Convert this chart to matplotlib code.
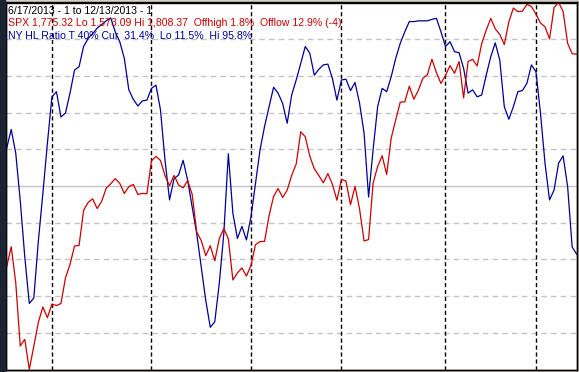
import numpy as np
import matplotlib.pyplot as plt
from matplotlib.patches import Rectangle

# SPX closes, 6/17/2013 .. 12/13/2013 (one per trading day)
spx = [1639.0, 1651.8, 1628.9, 1588.2, 1592.4, 1573.1, 1588.0, 1603.3, 1613.2, 1606.3,
       1615.0, 1614.1, 1615.4, 1631.9, 1640.5, 1652.3, 1652.6, 1675.0, 1680.2, 1682.5,
       1676.3, 1680.9, 1689.4, 1692.1, 1695.5, 1692.4, 1685.9, 1690.3, 1691.7, 1685.3,
       1686.0, 1685.7, 1706.9, 1709.7, 1707.1, 1697.4, 1690.9, 1697.5, 1691.4, 1689.5,
       1694.2, 1685.4, 1661.3, 1655.8, 1646.1, 1652.4, 1642.8, 1657.0, 1663.5, 1656.8,
       1630.5, 1635.0, 1638.2, 1633.0, 1639.8, 1653.1, 1655.1, 1655.2, 1671.7, 1684.0,
       1689.1, 1683.4, 1688.0, 1697.6, 1704.8, 1725.5, 1722.3, 1709.9, 1701.8, 1697.4,
       1692.8, 1698.7, 1691.8, 1681.6, 1695.0, 1693.9, 1678.7, 1690.5, 1676.1, 1655.5,
       1656.4, 1692.6, 1703.2, 1710.1, 1698.1, 1721.5, 1733.2, 1744.5, 1744.7, 1754.7,
       1746.4, 1752.1, 1759.8, 1762.1, 1772.0, 1763.3, 1756.5, 1761.6, 1767.9, 1763.0,
       1770.5, 1747.2, 1770.6, 1771.9, 1767.7, 1782.0, 1790.6, 1798.2, 1791.5, 1787.9,
       1781.4, 1795.9, 1804.8, 1802.5, 1802.8, 1807.2, 1805.8, 1800.9, 1795.2, 1792.8,
       1785.0, 1805.1, 1808.4, 1802.6, 1782.2, 1775.5, 1775.3]

# NY new high / new low ratio, percent
hl_ratio = [60.3, 65.4, 59.0, 46.0, 30.7, 18.0, 19.5, 35.0, 48.0, 61.6,
            74.3, 75.7, 68.8, 69.9, 75.3, 81.6, 82.5, 88.0, 90.2, 91.5,
            93.0, 94.0, 95.0, 95.8, 92.0, 89.3, 84.8, 76.2, 73.6, 71.8,
            73.2, 73.4, 76.6, 77.5, 70.7, 57.0, 46.2, 52.0, 53.0, 57.0,
            51.6, 44.3, 37.1, 28.0, 18.9, 11.5, 13.0, 23.5, 37.1, 58.8,
            42.6, 35.7, 39.0, 35.3, 41.6, 50.7, 59.8, 66.2, 71.6, 76.9,
            75.3, 72.5, 67.1, 74.8, 78.9, 83.4, 88.0, 86.2, 80.2, 81.8,
            83.0, 83.2, 79.3, 73.4, 78.9, 79.1, 76.0, 78.2, 72.6, 64.4,
            47.0, 59.9, 71.6, 76.6, 75.7, 79.8, 84.8, 88.9, 92.0, 94.8,
            94.8, 95.0, 95.0, 95.0, 95.4, 95.7, 92.0, 88.0, 89.3, 86.6,
            86.3, 82.1, 75.3, 76.2, 74.3, 74.8, 80.2, 85.2, 89.0, 84.3,
            71.6, 68.2, 71.6, 75.7, 76.0, 78.0, 83.0, 81.1, 69.8, 56.2,
            46.2, 48.9, 56.2, 58.2, 49.8, 33.4, 31.4]

# first trading day of each month (index)
month_starts = [10, 32, 54, 74, 97, 117]

spx_lo, spx_hi = 1573.09, 1808.37
header = "6/17/2013 - 1 to 12/13/2013 - 1"
spx_label = "SPX 1,775.32 Lo 1,573.09 Hi 1,808.37  Offhigh 1.8%  Offlow 12.9% (-4)"
hl_label = "NY HL Ratio T 40% Cur  31.4%  Lo 11.5%  Hi 95.8%"

W, H = 579, 372
fig = plt.figure(figsize=(W / 100, H / 100), dpi=100, facecolor="#d4d0c8")
ax = fig.add_axes([6 / W, 2.5 / H, 571 / W, 367 / H])
ax.set_facecolor("white")

# left window edge
fig.patches.append(Rectangle((0, 0), 5 / W, 1, transform=fig.transFigure,
                             color="#1c2433", zorder=0))

x = np.arange(len(spx))

for g in range(10, 100, 10):
    if g == 50:
        ax.axhline(g, color="#c4c4c4", lw=1.0, zorder=1)
    else:
        ax.axhline(g, color="#c4c4c4", lw=1.0, ls=(0, (4, 3)), zorder=1)
for m in month_starts:
    ax.axvline(m, color="black", lw=1.0, ls=(0, (3, 2)), zorder=1)

ax.plot(x, hl_ratio, color="#000099", lw=0.9, zorder=3)
ax.set_ylim(0, 100)
ax.set_xlim(-0.15, 126.07)

ax2 = ax.twinx()
ax2.plot(x, spx, color="#cc0000", lw=0.9, zorder=2)
ax2.set_ylim(spx_lo, spx_hi)

for a in (ax, ax2):
    a.set_xticks([])
    a.set_yticks([])
    for s in a.spines.values():
        s.set_color("black")
        s.set_linewidth(1.0)

fs = 7.6
fam = ["Liberation Sans", "DejaVu Sans"]
ax.text(2 / 571, 1 - 8.5 / 367, header, transform=ax.transAxes, fontsize=fs,
        family=fam, color="black", va="center", ha="left", zorder=5)
ax.text(2 / 571, 1 - 21 / 367, spx_label, transform=ax.transAxes, fontsize=fs,
        family=fam, color="#cc0000", va="center", ha="left", zorder=5)
ax.text(2 / 571, 1 - 33.5 / 367, hl_label, transform=ax.transAxes, fontsize=fs,
        family=fam, color="#000099", va="center", ha="left", zorder=5)

fig.savefig("out.png", dpi=100, facecolor=fig.get_facecolor())
